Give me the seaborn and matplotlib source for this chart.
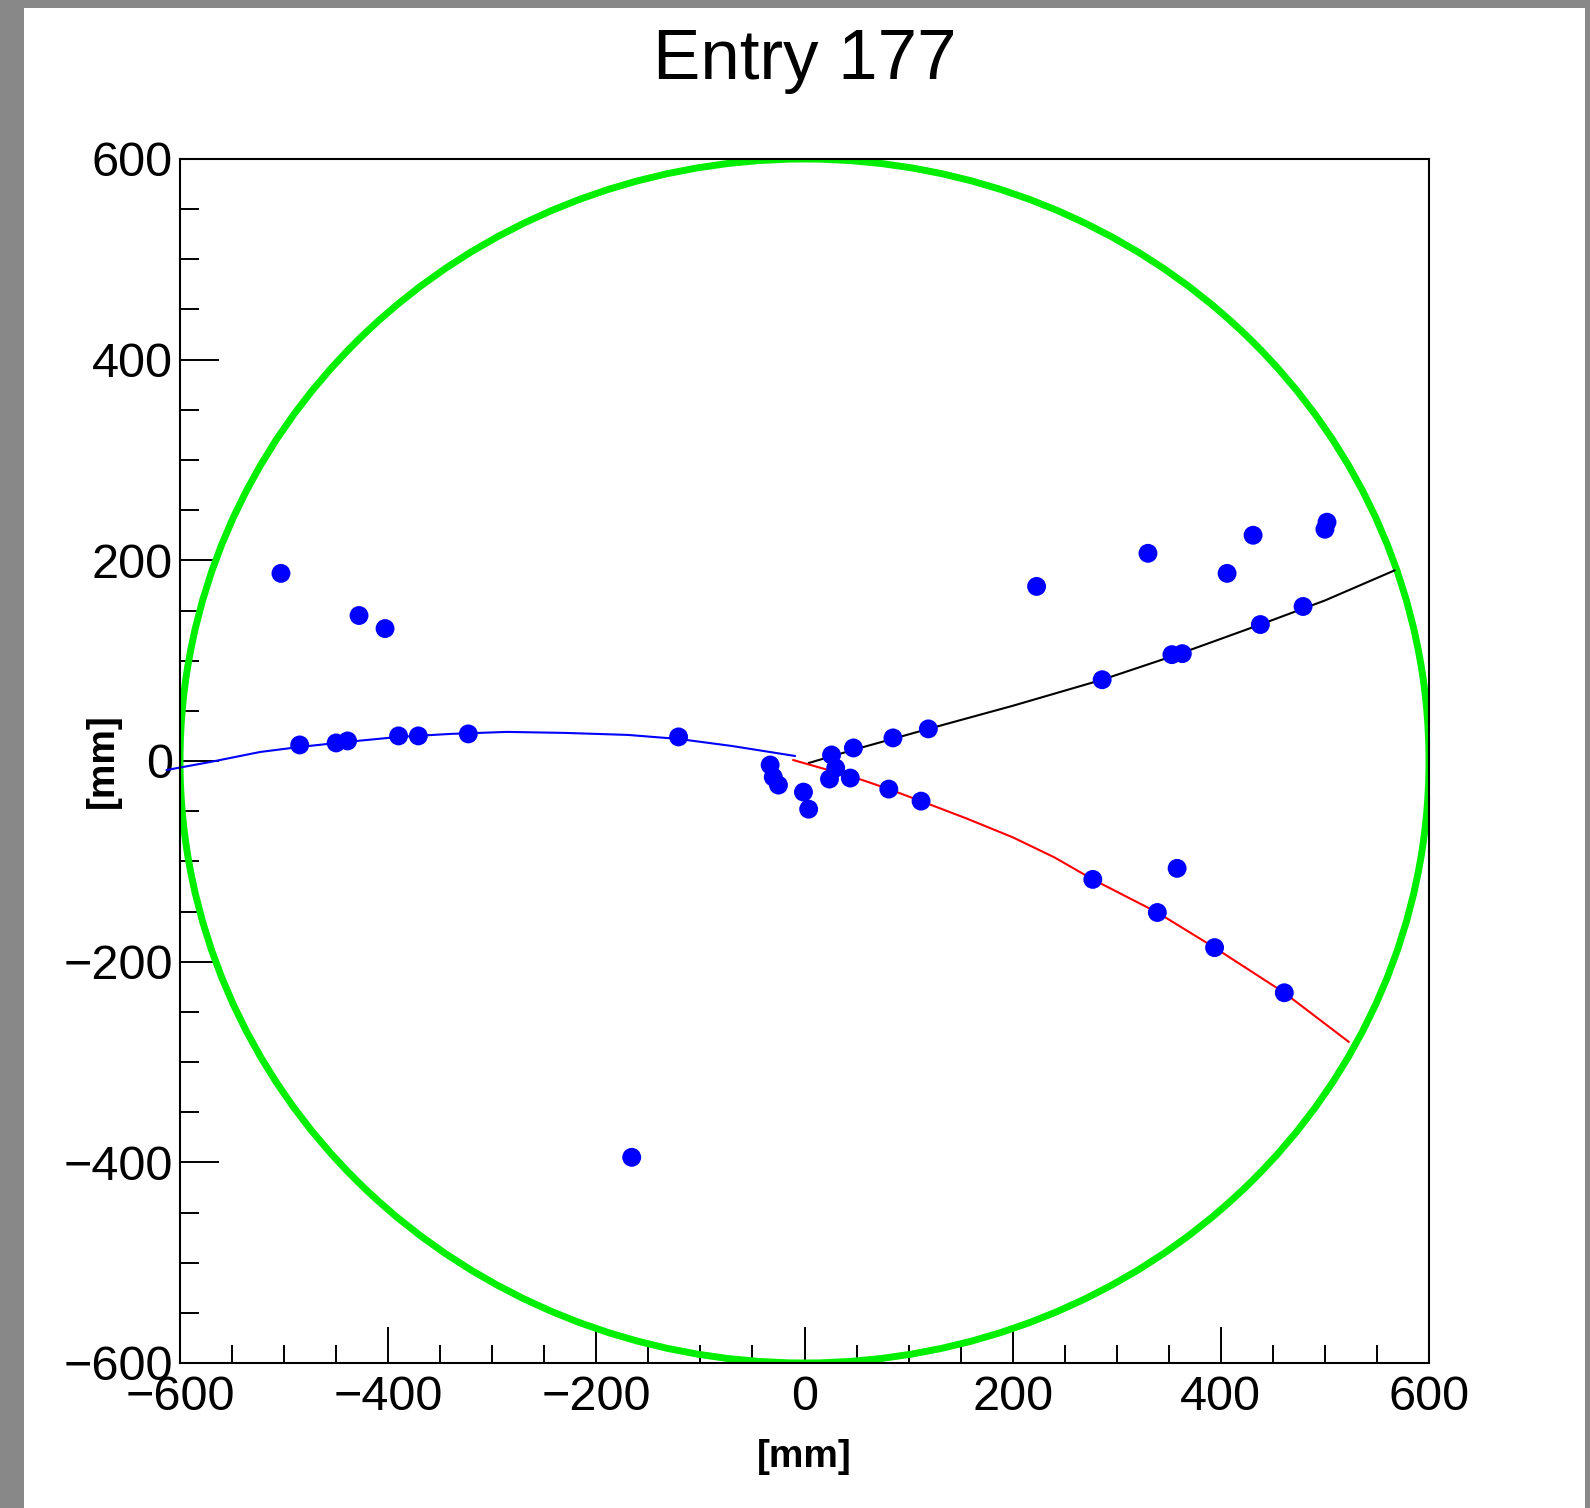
import matplotlib
matplotlib.use("Agg")
import matplotlib.pyplot as plt
import seaborn as sns
import pandas as pd
from matplotlib.patches import Circle, Rectangle
from matplotlib.ticker import MultipleLocator, FixedLocator

# ---------------- data (mm) ----------------
title_text = "Entry 177"
axis_unit = "[mm]"
detector_radius = 600
tick_values = [-600, -400, -200, 0, 200, 400, 600]

hit_x = [-503, -428, -403, -485, -450, -439, -390, -371, -323, -121, -166,
         -33, -30, -25, -1, 4, 26, 47, 30, 24, 44,
         85, 119, 286, 353, 363, 438, 479,
         223, 330, 431, 406, 500, 502,
         81, 112, 277, 358, 339, 394, 461]
hit_y = [187, 145, 132, 16, 18, 20, 25, 25, 27, 24, -395,
         -4, -16, -24, -31, -48, 6, 13, -7, -18, -17,
         23, 32, 81, 106, 107, 136, 154,
         174, 207, 225, 187, 231, 238,
         -28, -40, -118, -107, -151, -186, -231]

track_blue_x = [-613, -571, -523, -485, -440, -390, -340, -286, -230, -170, -121, -70, -9]
track_blue_y = [-9, -1, 9, 14, 19, 24, 27, 29, 28, 26, 22, 15, 5]

track_black_x = [4, 50, 119, 200, 286, 358, 438, 500, 567]
track_black_y = [-2, 12, 32, 55, 81, 106, 136, 160, 190]

track_red_x = [-11, 50, 81, 112, 155, 200, 240, 277, 339, 394, 461, 523]
track_red_y = [1, -17, -28, -40, -57, -76, -96, -118, -151, -186, -231, -280]

# ---------------- style ----------------
sns.set_style("white")
plt.rcParams['font.family'] = ['Liberation Sans', 'DejaVu Sans']
plt.rcParams['text.color'] = 'black'
plt.rcParams['axes.labelcolor'] = 'black'

W, H = 1590, 1508
fig = plt.figure(figsize=(W / 100, H / 100), dpi=100, facecolor='#888888')
fig.patches.append(Rectangle((24 / W, 0), (1585 - 24) / W, 1 - 8 / H,
                             transform=fig.transFigure, facecolor='white',
                             edgecolor='none', zorder=-10))

ax = fig.add_axes([180 / W, 1 - 1363 / H, 1249 / W, 1204 / H])
ax.set_facecolor('white')

ax.add_patch(Circle((0, 0), detector_radius, fill=False, edgecolor='#00ee00',
                    lw=5.0, zorder=1))

for tx, ty, col in [(track_blue_x, track_blue_y, '#0000ff'),
                    (track_black_x, track_black_y, 'black'),
                    (track_red_x, track_red_y, '#ff0000')]:
    df = pd.DataFrame({'x': tx, 'y': ty})
    sns.lineplot(data=df, x='x', y='y', sort=False, estimator=None,
                 color=col, lw=1.5, ax=ax, zorder=2, clip_on=False)

hits = pd.DataFrame({'x': hit_x, 'y': hit_y})
sns.scatterplot(data=hits, x='x', y='y', color='#0000ff', s=185,
                edgecolor='none', marker='o', ax=ax, zorder=3)

ax.set_xlim(-600, 600)
ax.set_ylim(-600, 600)
ax.xaxis.set_major_locator(FixedLocator(tick_values))
ax.yaxis.set_major_locator(FixedLocator(tick_values))
ax.xaxis.set_minor_locator(MultipleLocator(50))
ax.yaxis.set_minor_locator(MultipleLocator(50))

ax.tick_params(axis='both', which='both', direction='in', top=False,
               right=False, bottom=True, left=True, width=1.4,
               color='black', labelsize=35, labelcolor='black')
ax.tick_params(axis='x', which='major', length=26, pad=9)
ax.tick_params(axis='x', which='minor', length=13)
ax.tick_params(axis='y', which='major', length=28, pad=5)
ax.tick_params(axis='y', which='minor', length=14)

for sp in ax.spines.values():
    sp.set_visible(True)
    sp.set_color('black')
    sp.set_linewidth(1.5)

ax.set_xlabel(axis_unit, fontsize=28, fontweight='bold', va='center',
              color='black')
ax.set_ylabel(axis_unit, fontsize=28, fontweight='bold', va='center',
              color='black')
ax.xaxis.set_label_coords(0.5, (1363 - 1457) / 1204)
ax.yaxis.set_label_coords((103 - 180) / 1249, 0.5)

ax.text(0.5, (1363 - 79) / 1204, title_text, transform=ax.transAxes,
        ha='center', va='baseline', fontsize=51, color='black')

fig.savefig("out.png", dpi=100, facecolor=fig.get_facecolor())
